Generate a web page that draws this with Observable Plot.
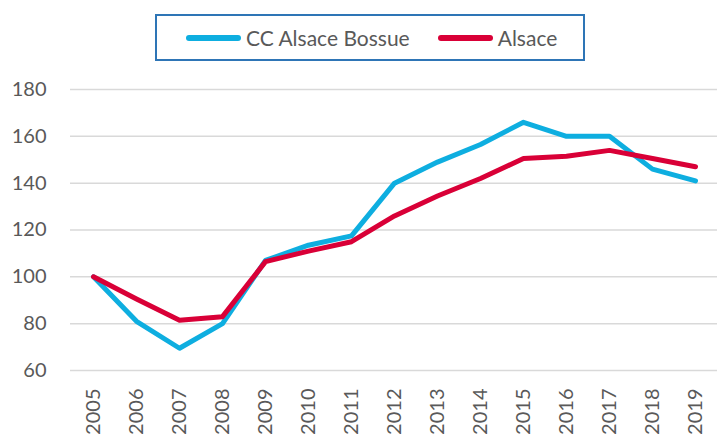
<!DOCTYPE html>
<html>
<head>
<meta charset="utf-8">
<script src="https://cdn.jsdelivr.net/npm/d3@7"></script>
<script src="https://cdn.jsdelivr.net/npm/@observablehq/plot@0.6"></script>
<style>
  html, body { margin: 0; padding: 0; background: #fff; }
  #wrap { position: relative; width: 717px; height: 434px; font-family: Lato, "Open Sans", sans-serif; }
  #legend { position: absolute; left: 155px; top: 14px; width: 426px; height: 43px; border: 2px solid #2E75B6; display: flex; align-items: center; color: #595959; font-size: 21px; }
  .item { display: flex; align-items: center; }
  .sw { display: inline-block; width: 55px; height: 6px; border-radius: 3px; margin-right: 5px; }
</style>
</head>
<body>
<div id="wrap">
  <div id="chart"></div>
  <div id="legend"></div>
</div>
<script>
const years = ["2005","2006","2007","2008","2009","2010","2011","2012","2013","2014","2015","2016","2017","2018","2019"];
const seriesNames = ["CC Alsace Bossue", "Alsace"];
const bossue = [100, 81, 69.5, 80, 107, 113.5, 117.5, 140, 149, 156.5, 166, 160, 160, 146, 141];
const alsace = [100, 90.5, 81.5, 83, 106.5, 111, 115, 126, 134.5, 142, 150.5, 151.5, 154, 150.5, 147];
const yTicks = [60, 80, 100, 120, 140, 160, 180];
const colors = ["#0EAEE0", "#D90037"];

const data = [];
[bossue, alsace].forEach((vals, s) => {
  vals.forEach((v, i) => data.push({year: years[i], value: v, series: seriesNames[s]}));
});

const chart = Plot.plot({
  width: 717,
  height: 434,
  marginTop: 89,
  marginBottom: 64,
  marginLeft: 70,
  marginRight: 0,
  style: {fontFamily: "Lato, 'Open Sans', sans-serif", color: "#595959", background: "#fff"},
  x: {type: "point", domain: years, padding: 0.44, label: null, tickSize: 0, tickRotate: -90, tickPadding: 18},
  y: {domain: [60, 180], ticks: yTicks, label: null, tickSize: 0, tickPadding: 24},
  color: {domain: seriesNames, range: colors},
  marks: [
    Plot.ruleY(yTicks, {stroke: "#d9d9d9", strokeWidth: 1.5}),
    Plot.line(data, {x: "year", y: "value", z: "series", stroke: "series", strokeWidth: 5, strokeLinecap: "round", strokeLinejoin: "round"})
  ]
});
chart.querySelectorAll("g[aria-label='y-axis tick label'], g[aria-label='x-axis tick label']").forEach(g => { g.setAttribute("font-size", "20"); g.setAttribute("fill", "#595959"); });
document.getElementById("chart").appendChild(chart);

const legend = document.getElementById("legend");
const offsets = [29, 28];
seriesNames.forEach((n, i) => {
  const it = document.createElement("div");
  it.className = "item";
  it.style.marginLeft = offsets[i] + "px";
  const sw = document.createElement("span");
  sw.className = "sw";
  sw.style.background = colors[i];
  it.appendChild(sw);
  const tx = document.createElement("span");
  tx.textContent = n;
  it.appendChild(tx);
  legend.appendChild(it);
});
</script>
</body>
</html>
